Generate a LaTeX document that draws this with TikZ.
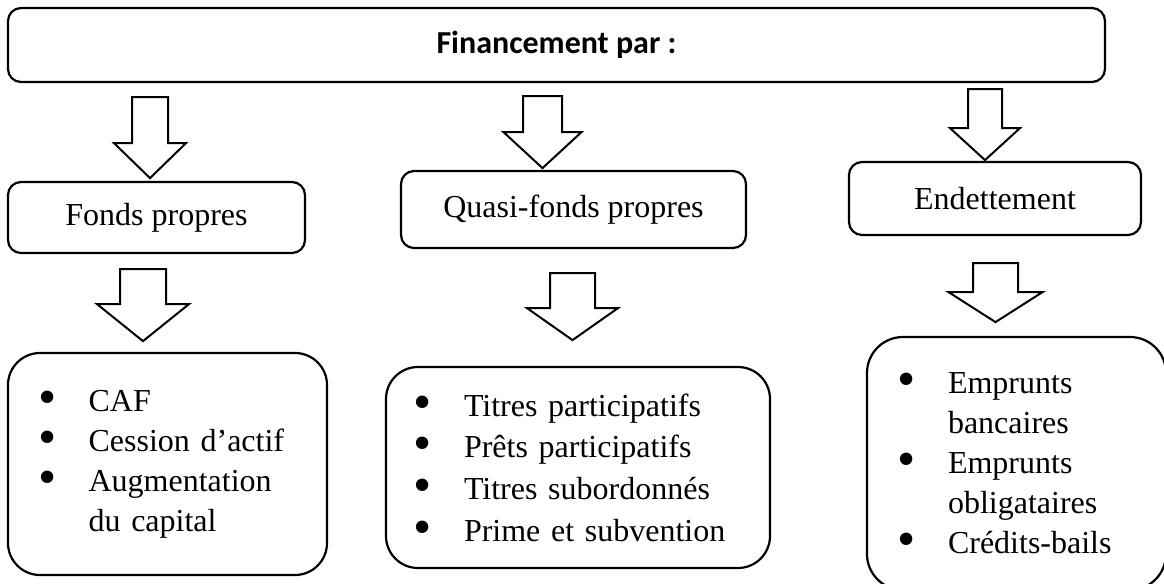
\documentclass[tikz,border=0pt]{standalone}
\usepackage{fontspec}
\setmainfont{Liberation Serif}
\newfontfamily\calibri{Carlito}
\usetikzlibrary{calc}

% bullet and continuation indent for the list boxes
\newcommand\itm{\makebox[23.3pt][l]{\hspace*{-1.75pt}\smash{\raisebox{-1.5pt}{\fontsize{26}{20}\selectfont\textbullet}}}}
\newcommand\cnt{\hspace*{23.3pt}}

\begin{document}
\begin{tikzpicture}[
    x=0.5pt, y=-0.5pt,
    font=\fontsize{16}{20}\selectfont,
    headbox/.style={draw, line width=1.1pt, rounded corners=6.5pt, inner sep=0pt},
    listbox/.style={draw, line width=1.1pt, rounded corners=16pt, align=left, inner ysep=0pt},
    blockarrow/.style={draw, line width=1pt, line join=miter, fill=white}
  ]
    \useasboundingbox (0,0) rectangle (1164,584);

    \node[headbox, minimum width=548.5pt, minimum height=37pt,
      font=\calibri\bfseries\fontsize{16}{19}\selectfont] (top) at (556.5,45) {Financement par :};

    \node[headbox, minimum width=148.5pt, minimum height=35.5pt] (fonds) at (156.5,217.5) {Fonds propres};
    \node[headbox, minimum width=172.5pt, minimum height=38.5pt] (quasi) at (573.5,209.5) {Quasi-fonds propres};
    \node[headbox, minimum width=146pt, minimum height=36.5pt] (endet) at (995,198.5) {Endettement};

    \node[listbox, inner xsep=17pt, text width=125.5pt, minimum height=111pt] (propres) at (167.5,464)
      {\itm CAF\\ \itm Cession d’actif\\ \itm Augmentation\\ \cnt du capital};
    \node[listbox, inner xsep=15.7pt, text width=160.6pt, minimum height=100.5pt,
      font=\fontsize{16}{20.8}\selectfont] (quasilist) at (578,467.5)
      {\itm Titres participatifs\\ \itm Prêts participatifs\\ \itm Titres subordonnés\\ \itm Prime et subvention};
    \node[listbox, rounded corners=18pt, inner xsep=17.2pt, text width=115.1pt, minimum height=126.5pt] (dettes) at (1016.5,463.5)
      {\itm Emprunts\\ \cnt bancaires\\ \itm Emprunts\\ \cnt obligataires\\ \itm Crédits-bails};

    % block arrows: source / x offset / gap / half shaft / half head / shaft / head
    \foreach \src/\dx/\gap/\s/\h/\l/\hl in {top/-406.5/14/18/36/46/35, top/-14/13/19.5/39/36/36,
        top/428.5/6/17/35/39/32, fonds/-13.5/15/23/46/35/37,
        quasi/-1/24/22.5/45.5/35/32, endet/0.5/27/22.5/47/29/30}
      \draw[blockarrow] ($(\src.south)+(\dx,\gap)$) -- ++(\s,0) -- ++(0,\l) -- ++(\h-\s,0)
        -- ++(-\h,\hl) -- ++(-\h,-\hl) -- ++(\h-\s,0) -- ++(0,-\l) -- cycle;
  \end{tikzpicture}
\end{document}
